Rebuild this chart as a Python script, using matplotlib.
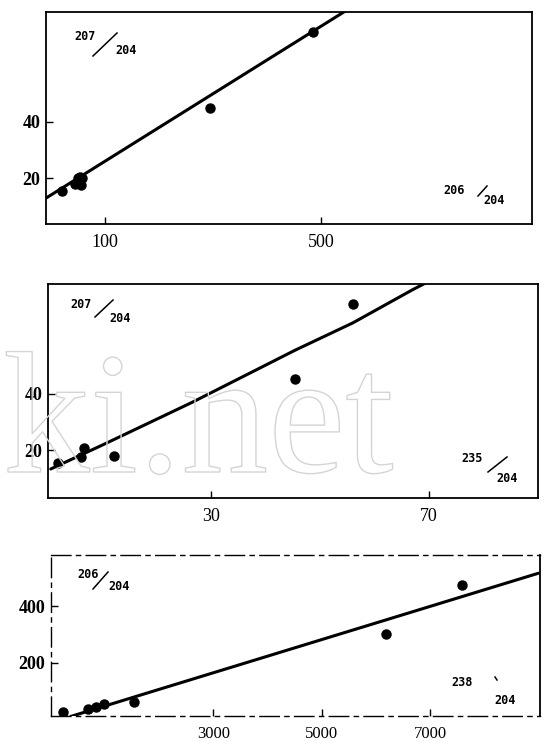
import matplotlib
matplotlib.use("Agg")
import matplotlib.pyplot as plt
import matplotlib.patheffects as pe
from matplotlib.lines import Line2D

W, H = 549, 741

# upper panel: 207/204 against 206/204
p1_x = [21, 45, 49.5, 53, 56.6, 58, 294, 484]
p1_y = [15.5, 18.2, 20, 20.6, 17.6, 20, 44.8, 71.5]
p1_fit_x = [-9, 563]
p1_fit_y = [13.1, 81]
p1_xticks = [100, 500]
p1_yticks = [20, 40]

# middle panel: 207/204 against 235/204
p2_x = [1.9, 6.1, 6.6, 12.2, 45.4, 56.0]
p2_y = [15.6, 17.7, 20.9, 17.9, 45.2, 71.8]
p2_fit_x = [0.5, 10.2, 26.5, 45.4, 56, 67, 73]
p2_fit_y = [13.3, 22, 37, 55.5, 65.2, 77, 83]
p2_xticks = [30, 70]
p2_yticks = [20, 40]

# lower panel: 206/204 against 238/204
p3_x = [228, 690, 827, 981, 1536, 6177, 7581]
p3_y = [27.5, 39, 47, 55, 64, 303, 475]
p3_fit_x = [365, 9000]
p3_fit_y = [12.5, 515]
p3_xticks = [3000, 5000, 7000]
p3_yticks = [200, 400]


def px(x, y):
    return x / W, 1 - y / H


def ratio_label(fig, top, bottom, top_xy, bottom_xy, slash):
    kw = dict(family="DejaVu Sans Mono", weight="bold", fontsize=8.5,
              ha="center", va="center")
    fig.text(*px(*top_xy), top, **kw)
    fig.text(*px(*bottom_xy), bottom, **kw)
    (x0, y0), (x1, y1) = px(*slash[0]), px(*slash[1])
    fig.add_artist(Line2D([x0, x1], [y0, y1], transform=fig.transFigure,
                          color="black", lw=1.1))


def panel(fig, rect, xs, ys, fx, fy, xlim, ylim, xticks, yticks, xsize=13):
    ax = fig.add_axes(rect)
    ax.plot(fx, fy, color="black", lw=2.2, solid_capstyle="round")
    ax.plot(xs, ys, "o", color="black", ms=6.5)
    ax.set_xlim(*xlim)
    ax.set_ylim(*ylim)
    ax.set_xticks(xticks)
    ax.set_yticks(yticks)
    ax.set_xticklabels([str(t) for t in xticks], family="Liberation Serif",
                       fontsize=xsize)
    ax.set_yticklabels([str(t) for t in yticks], family="Liberation Serif",
                       fontsize=13, weight="bold")
    ax.tick_params(direction="in", length=5, width=1, top=False, right=False)
    ax.tick_params(axis="x", pad=7)
    ax.tick_params(axis="y", pad=4)
    for s in ax.spines.values():
        s.set_linewidth(1.3)
    return ax


fig = plt.figure(figsize=(W / 100, H / 100), dpi=100)

ax1 = panel(fig, [46 / W, 1 - 224 / H, 486 / W, 212 / H],
            p1_x, p1_y, p1_fit_x, p1_fit_y, (-9, 890), (4, 78.5),
            p1_xticks, p1_yticks)
ax2 = panel(fig, [48 / W, 1 - 498 / H, 490 / W, 214 / H],
            p2_x, p2_y, p2_fit_x, p2_fit_y, (0, 90), (3, 79),
            p2_xticks, p2_yticks)
ax3 = panel(fig, [51 / W, 1 - 716 / H, 489 / W, 161 / H],
            p3_x, p3_y, p3_fit_x, p3_fit_y, (0, 9030), (14, 579),
            p3_xticks, p3_yticks, xsize=12)
for side in ["top", "bottom", "left"]:
    ax3.spines[side].set_linestyle((0, (14, 4, 3, 4)))
    ax3.spines[side].set_linewidth(1.0)

ratio_label(fig, "207", "204", (85, 37), (126, 51), ((93, 56), (117, 33)))
ratio_label(fig, "206", "204", (454, 190), (494, 201), ((478, 196), (487, 186)))
ratio_label(fig, "207", "204", (81, 304), (120, 318), ((95, 317), (113, 300)))
ratio_label(fig, "235", "204", (472, 459), (507, 479), ((488, 472), (507, 457)))
ratio_label(fig, "206", "204", (88, 574), (119, 586), ((93, 589), (108, 572)))
ratio_label(fig, "238", "204", (462, 682), (505, 700), ((495, 677), (497, 680)))

# faint scan watermark
fig.text(3 / W, 1 - 472 / H, "ki.net", family="Liberation Serif",
         fontsize=125, ha="left", va="baseline", color="none",
         path_effects=[pe.Stroke(linewidth=1.0, foreground="#d4d4d4")])

fig.savefig("out.png", dpi=100)
